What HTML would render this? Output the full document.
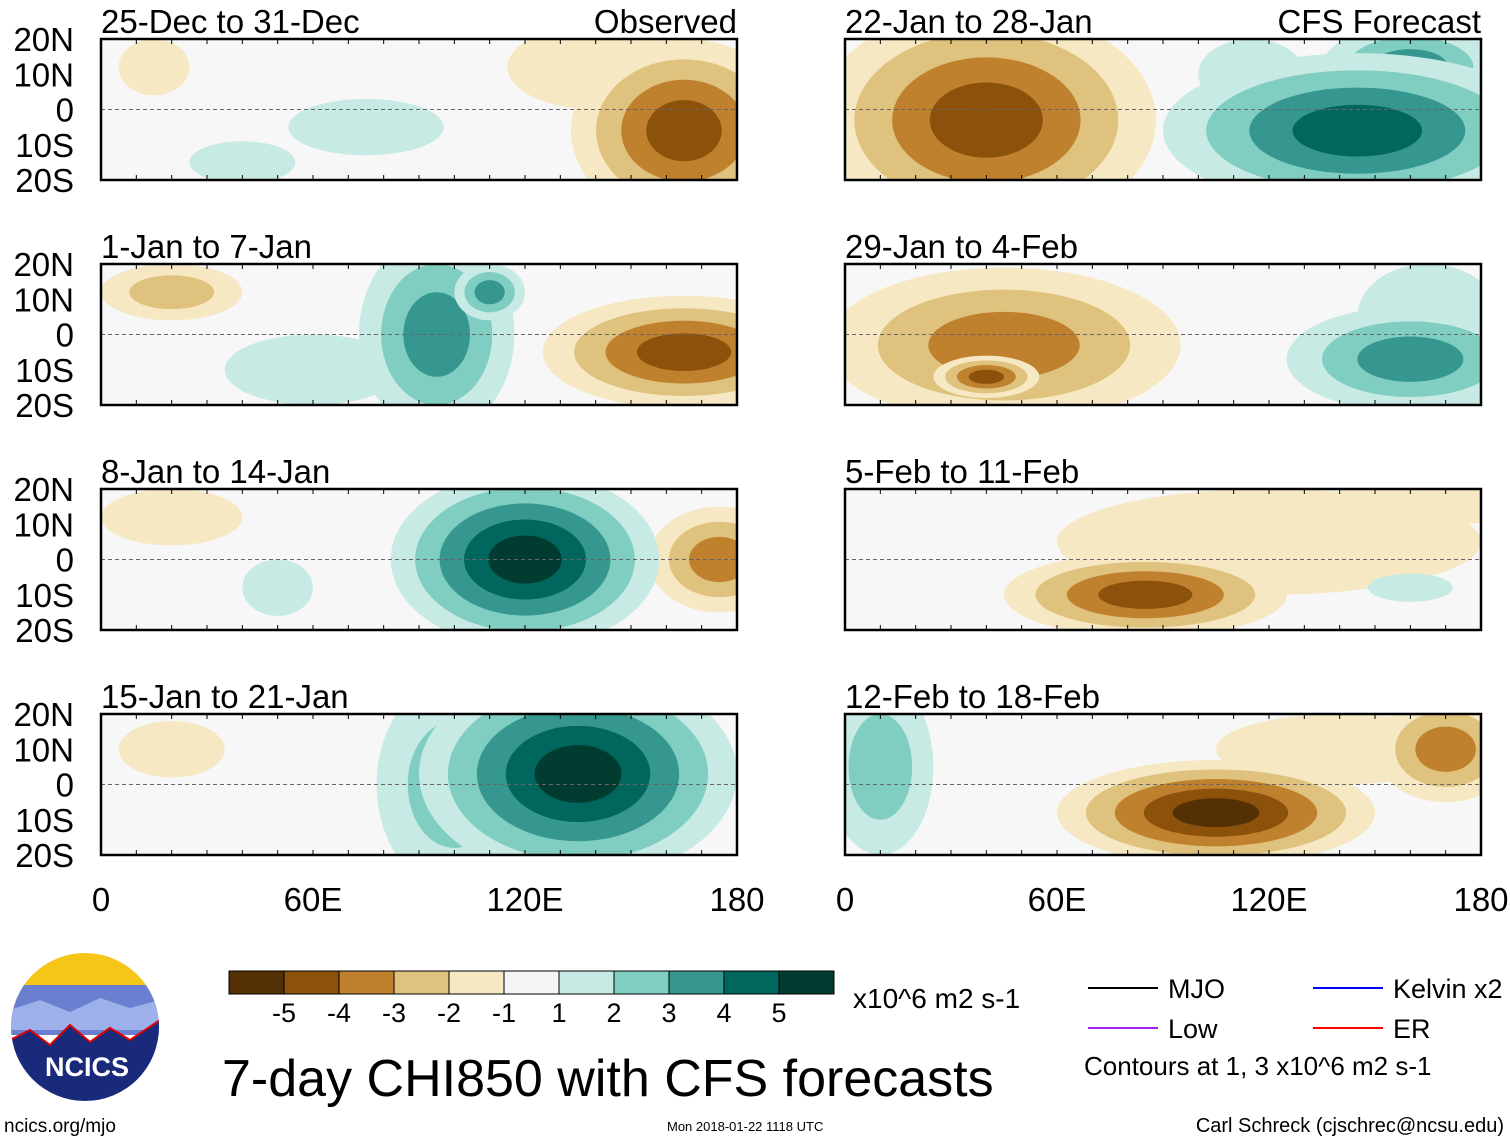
<!DOCTYPE html>
<html><head><meta charset="utf-8"><style>
body{margin:0;background:#fff;width:1510px;height:1142px;overflow:hidden;font-family:"Liberation Sans",sans-serif}
svg{position:absolute;left:0;top:0}
</style></head><body>
<svg id="root" width="1510" height="1142" font-family="Liberation Sans, sans-serif"></svg>
<script>
const panelTitles=["25-Dec to 31-Dec","1-Jan to 7-Jan","8-Jan to 14-Jan","15-Jan to 21-Jan","22-Jan to 28-Jan","29-Jan to 4-Feb","5-Feb to 11-Feb","12-Feb to 18-Feb"];
const latTicks=["20N","10N","0","10S","20S"];
const lonTicks=["0","60E","120E","180"];
const cbLabels=["-5","-4","-3","-2","-1","1","2","3","4","5"];
const cbColors=["#543005","#8c510a","#bf812d","#dfc27d","#f6e8c3","#f5f5f5","#c7eae5","#80cdc1","#35978f","#01665e","#003c30"];
// blobs: [lon, lat, rxDeg, ryDeg, level]
const blobs=[
[[15,12,10,8,-1],[140,12,25,12,-1],[75,-5,22,8,1],[40,-15,15,6,1],[165,-6,32,26,-4]],
[[20,12,20,8,-2],[60,-10,25,10,1],[95,0,22,28,3],[110,12,10,8,3],[165,-5,40,16,-4]],
[[20,12,20,8,-1],[50,-8,10,8,1],[175,0,20,15,-3],[120,0,38,25,5]],
[[20,10,15,8,-1],[100,0,22,30,2],[135,3,45,30,5]],
[[40,-3,48,32,-4],[115,10,15,10,1],[160,12,25,12,3],[145,-6,55,22,4]],
[[45,-3,50,22,-3],[40,-12,15,6,-4],[165,5,20,15,1],[160,-7,35,15,3]],
[[120,5,60,15,-1],[170,18,30,8,-1],[85,-10,40,12,-4],[160,-8,12,4,1]],
[[140,10,35,10,-1],[170,10,20,15,-3],[10,5,15,25,2],[105,-8,45,15,-5]]
];
const NS="http://www.w3.org/2000/svg";
const root=document.getElementById('root');
function mk(t,a,p){const e=document.createElementNS(NS,t);for(const k in a)e.setAttribute(k,a[k]);(p||root).appendChild(e);return e;}
const PW=636,PH=141;
const colX=[101,845],rowY=[39,264,489,714];
function lvlColor(l){return cbColors[5+l];}
panelTitles.forEach((title,i)=>{
  const px=colX[Math.floor(i/4)],py=rowY[i%4];
  const xs=lon=>px+lon*PW/180, ys=lat=>py+(20-lat)*PH/40;
  const g=mk('g',{});
  
  
  const cp=mk('clipPath',{id:'cp'+i},g);mk('rect',{x:px,y:py,width:PW,height:PH},cp);
  const inner=mk('g',{'clip-path':'url(#cp'+i+')'},g);
  mk('rect',{x:px,y:py,width:PW,height:PH,fill:'#f7f7f7'},inner);
  blobs[i].forEach(b=>{
    const L=Math.abs(b[4]),s=Math.sign(b[4]);
    for(let k=1;k<=L;k++){
      const f=1-(k-1)/(L+0.5);
      const e=mk('ellipse',{cx:xs(b[0]),cy:ys(b[1]),rx:b[2]*f*PW/180,ry:b[3]*f*PH/40,fill:lvlColor(s*k)},inner);
      
      
    }
  });
  mk('line',{x1:px,x2:px+PW,y1:ys(0),y2:ys(0),stroke:'#666','stroke-dasharray':'4,3','stroke-width':1},inner);
  mk('rect',{x:px,y:py,width:PW,height:PH,fill:'none',stroke:'#000','stroke-width':2.5},g);
  for(let l=0;l<=180;l+=10){mk('line',{x1:xs(l),x2:xs(l),y1:py,y2:py+5,stroke:'#000'},g);mk('line',{x1:xs(l),x2:xs(l),y1:py+PH,y2:py+PH-5,stroke:'#000'},g);}
  const t=mk('text',{x:px,y:py-6,'font-size':33},g);t.textContent=title;
  
  if(i===0||i===4){const r=mk('text',{x:px+PW,y:py-6,'font-size':33,'text-anchor':'end'},g);r.textContent=i===0?"Observed":"CFS Forecast";}
  if(i<4){latTicks.forEach((lt,j)=>{const tt=mk('text',{x:74,y:ys(20-j*10)+12,'font-size':33,'text-anchor':'end'},g);tt.textContent=lt;
    });}
  if(i%4===3){lonTicks.forEach((lt,j)=>{const tt=mk('text',{x:xs(j*60),y:911,'font-size':33,'text-anchor':'middle'},g);tt.textContent=lt;
    });}
});
const cb=mk('g',{});
cbColors.forEach((c,k)=>mk('rect',{x:229+55*k,y:971,width:55,height:23,fill:c,stroke:'#000','stroke-width':1},cb));
cbLabels.forEach((l,k)=>{const t=mk('text',{x:284+55*k,y:1022,'font-size':27,'text-anchor':'middle'},cb);t.textContent=l;});
const un=mk('text',{x:853,y:1008,'font-size':28},cb);un.textContent="x10^6 m2 s-1";
const ti=mk('text',{x:222,y:1096,'font-size':52});ti.textContent="7-day CHI850 with CFS forecasts";

const lg=mk('g',{});
[["MJO","#000",1088,988],["Low","#a020f0",1088,1028],["Kelvin x2","#0000ff",1313,988],["ER","#ff0000",1313,1028]].forEach(d=>{
  mk('line',{x1:d[2],x2:d[2]+70,y1:d[3],y2:d[3],stroke:d[1],'stroke-width':2},lg);
  const t=mk('text',{x:d[2]+80,y:d[3]+10,'font-size':27},lg);t.textContent=d[0];});
const ct=mk('text',{x:1084,y:1075,'font-size':26},lg);ct.textContent="Contours at 1, 3 x10^6 m2 s-1";
const lo=mk('g',{});
const lcp=mk('clipPath',{id:'lc'},lo);mk('circle',{cx:85,cy:1027,r:74},lcp);
const lg2=mk('g',{'clip-path':'url(#lc)'},lo);
mk('rect',{x:10,y:952,width:150,height:60,fill:'#f5c518'},lg2);
mk('rect',{x:10,y:985,width:150,height:50,fill:'#6a7fd0'},lg2);
mk('path',{d:'M10 1010 L40 1000 L70 1012 L100 998 L130 1008 L160 1000 L160 1030 L10 1030Z',fill:'#9db0ea'},lg2);
mk('path',{d:'M10 1040 L30 1030 L50 1045 L70 1025 L90 1042 L110 1028 L130 1040 L160 1020 L160 1110 L10 1110Z',fill:'#1a2a7a',stroke:'#d00','stroke-width':2},lg2);
const nt=mk('text',{x:87,y:1076,'font-size':27,'font-weight':'bold',fill:'#fff','text-anchor':'middle'},lo);nt.textContent="NCICS";
const f1=mk('text',{x:4,y:1132,'font-size':19});f1.textContent="ncics.org/mjo";
const f2=mk('text',{x:667,y:1131,'font-size':13});f2.textContent="Mon 2018-01-22 1118 UTC";
const f3=mk('text',{x:1504,y:1132,'font-size':20,'text-anchor':'end'});f3.textContent="Carl Schreck (cjschrec@ncsu.edu)";
</script>
</body></html>
